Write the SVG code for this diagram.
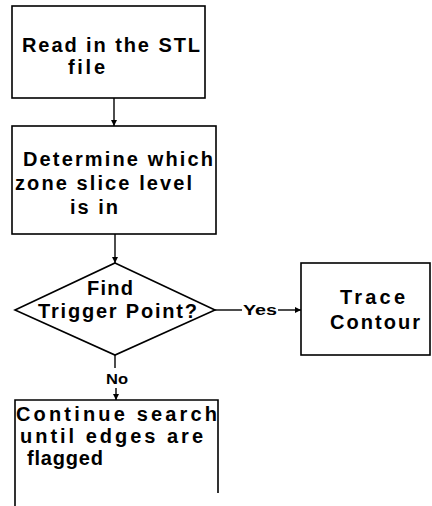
<svg xmlns="http://www.w3.org/2000/svg" width="432" height="506" viewBox="0 0 432 506">
<defs>
<style>
.box{fill:#fff;stroke:#000;stroke-width:1.6}
.t{font-family:"Liberation Sans",Arial,sans-serif;font-weight:bold;font-size:20px;fill:#000}
.s{font-family:"Liberation Sans",Arial,sans-serif;font-weight:bold;font-size:14px;fill:#000}
.c{fill:none;stroke:#000;stroke-width:1.4}
</style>
<marker id="ah" viewBox="0 0 8 8" refX="8" refY="4" markerWidth="6" markerHeight="6" orient="auto" markerUnits="userSpaceOnUse">
<path d="M0,0 L8,4 L0,8 z" fill="#000"/>
</marker>
</defs>
<rect width="432" height="506" fill="#fff"/>
<g id="connectors">
<line class="c" x1="114" y1="98" x2="114" y2="126" marker-end="url(#ah)"/>
<line class="c" x1="115" y1="234" x2="115" y2="263" marker-end="url(#ah)"/>
<line class="c" x1="215" y1="310" x2="242" y2="310"/>
<line class="c" x1="278" y1="310" x2="301" y2="310" marker-end="url(#ah)"/>
<text class="s" x="243" y="315" textLength="34" lengthAdjust="spacingAndGlyphs">Yes</text>
<line class="c" x1="115" y1="355" x2="115" y2="368"/>
<line class="c" x1="116" y1="388" x2="116" y2="400" marker-end="url(#ah)"/>
<text class="s" x="106" y="384" textLength="22" lengthAdjust="spacingAndGlyphs">No</text>
</g>
<g id="n1">
<rect class="box" x="12" y="6" width="193" height="92"/>
<text class="t" x="22" y="52" textLength="178" lengthAdjust="spacing">Read in the STL</text>
<text class="t" x="68" y="74" textLength="37" lengthAdjust="spacing">file</text>
</g>
<g id="n2">
<rect class="box" x="12" y="126" width="204" height="108"/>
<text class="t" x="23" y="166" textLength="190" lengthAdjust="spacing">Determine which</text>
<text class="t" x="15" y="190" textLength="177" lengthAdjust="spacing">zone slice level</text>
<text class="t" x="70" y="214" textLength="48" lengthAdjust="spacing">is in</text>
</g>
<g id="n3">
<polygon class="box" points="115,263 215,310 115,355 15,310"/>
<text class="t" x="87" y="295" textLength="46" lengthAdjust="spacing">Find</text>
<text class="t" x="38" y="318" textLength="159" lengthAdjust="spacing">Trigger Point?</text>
</g>
<g id="n4">
<rect class="box" x="301" y="263" width="129" height="92"/>
<text class="t" x="340" y="304" textLength="65" lengthAdjust="spacing">Trace</text>
<text class="t" x="330" y="329" textLength="90" lengthAdjust="spacing">Contour</text>
</g>
<g id="n5">
<polyline class="c" points="15,506 15,400 218,400 218,493" style="stroke-width:1.6"/>
<text class="t" x="16" y="421" textLength="201" lengthAdjust="spacing">Continue search</text>
<text class="t" x="20" y="443" textLength="183" lengthAdjust="spacing">until edges are</text>
<text class="t" x="27" y="465" textLength="76" lengthAdjust="spacing">flagged</text>
</g>
</svg>
